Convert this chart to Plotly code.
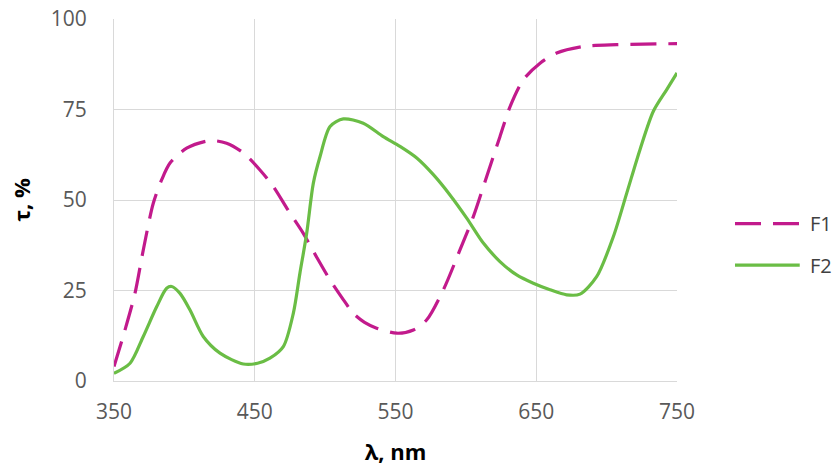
import plotly.graph_objects as go

# F1 (magenta dashed)
f1_x = [350, 357.8, 364.9, 370.8, 377.9, 383.9, 389.8, 401.6, 418.2, 430, 441.9, 453.7, 463.2,
        474, 484.5, 494, 503.5, 512.9, 520, 528, 536.6, 551, 562.7, 572.2, 584, 595.8, 605.3,
        614.8, 624.2, 631.4, 640.8, 652.7, 664.5, 683.4, 707.2, 750]
f1_y = [4.0, 14.1, 24.2, 36.2, 49.1, 55.6, 60.2, 64.3, 66.4, 65.7, 63.0, 58.3, 53.7,
        47.0, 40.8, 34.2, 27.9, 22.5, 18.7, 16.2, 14.6, 13.2, 14.1, 16.9, 25.2, 36.2, 45.4,
        56.5, 67.5, 75.8, 83.2, 87.8, 90.6, 92.4, 92.9, 93.2]

# F2 (green solid)
f2_x = [350, 361.4, 370.8, 380.3, 387.4, 391, 396.9, 404, 413.4, 425.3, 441.9, 452, 460.8,
        470.3, 477.4, 482.1, 486.9, 491.6, 496.4, 503.5, 512.9, 527.1, 541.3, 553.2, 565.1,
        576.9, 588.7, 600.6, 612.4, 624.2, 636.1, 647.9, 659.8, 671.6, 681.1, 692.9, 704.8,
        714.3, 723.7, 733.2, 742.7, 750]
f2_y = [2.1, 4.9, 12.3, 20.5, 25.6, 26.1, 24.2, 19.6, 12.3, 7.7, 4.7, 4.9, 6.3,
        9.5, 18.7, 29.8, 40.8, 54.6, 62.0, 70.3, 72.4, 71.2, 67.5, 64.8, 61.6,
        57.0, 51.4, 45.0, 38.1, 33.0, 29.3, 27.0, 25.2, 23.8, 24.0, 28.8, 39.9,
        51.9, 63.9, 74.5, 80.5, 85.1]

x_ticks = [350, 450, 550, 650, 750]
y_ticks = [0, 25, 50, 75, 100]
series_names = ["F1", "F2"]
series_colors = ["#C21A8C", "#6ABD45"]
series_dash = ["26px,12px", "solid"]

fig = go.Figure()
for name, xs, ys, col, dash in zip(series_names, [f1_x, f2_x], [f1_y, f2_y], series_colors, series_dash):
    fig.add_trace(go.Scatter(x=xs, y=ys, name=name, mode="lines", showlegend=False,
                             line=dict(color=col, width=3.2, dash=dash, shape="spline",
                                       smoothing=0.8)))

# Legend (drawn as layout shapes/annotations to match the long legend keys)
leg_x0, leg_x1, leg_tx = 1.103, 1.218, 1.232
leg_y = [0.435, 0.32]
for name, col, dash, ly in zip(series_names, series_colors, series_dash, leg_y):
    fig.add_shape(type="line", xref="paper", yref="paper", x0=leg_x0, x1=leg_x1, y0=ly, y1=ly,
                  line=dict(color=col, width=3.2, dash=dash))
    fig.add_annotation(xref="paper", yref="paper", x=leg_tx, y=ly, text=name, showarrow=False,
                       xanchor="left", yanchor="middle",
                       font=dict(family="Open Sans", size=20, color="#404040"))

grid = "#D9D9D9"
tickfont = dict(family="Open Sans", size=21, color="#595959")
fig.update_layout(
    width=833, height=468,
    margin=dict(l=114, r=156, t=19, b=87),
    paper_bgcolor="white", plot_bgcolor="white",
    showlegend=False,
    xaxis=dict(range=[350, 750], tickvals=x_ticks, showgrid=True, gridcolor=grid, gridwidth=1,
               showline=True, linecolor=grid, linewidth=1, zeroline=False, automargin=False,
               tickfont=tickfont, ticks="outside", ticklen=12, tickcolor="rgba(0,0,0,0)",
               title=dict(text="<b>λ, nm</b>", font=dict(family="Open Sans", size=22, color="black"),
                          standoff=20)),
    yaxis=dict(range=[0, 100], tickvals=y_ticks, showgrid=True, gridcolor=grid, gridwidth=1,
               showline=True, linecolor=grid, linewidth=1, zeroline=False, automargin=False,
               tickfont=tickfont, ticks="outside", ticklen=22, tickcolor="rgba(0,0,0,0)",
               title=dict(text="<b>τ, %</b>", font=dict(family="Open Sans", size=22, color="black"),
                          standoff=14)),
)
fig.write_html("out.html")
